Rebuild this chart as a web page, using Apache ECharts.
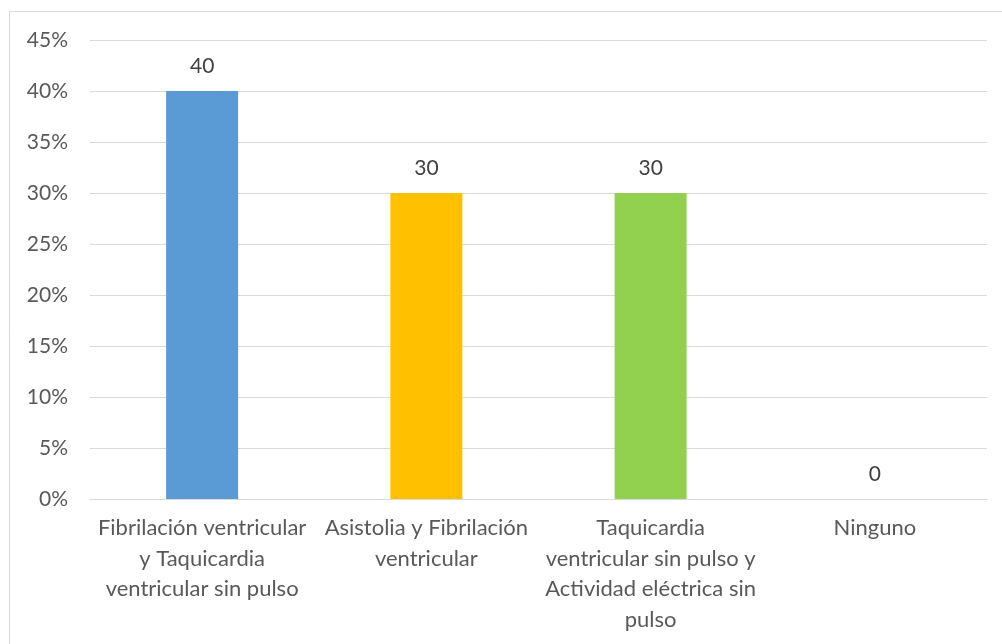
<!DOCTYPE html>
<html>
<head>
<meta charset="utf-8">
<script src="https://cdn.jsdelivr.net/npm/echarts@6/dist/echarts.min.js"></script>
<style>
html,body{margin:0;padding:0;background:#fff;}
#chart{width:1002px;height:644px;}
</style>
</head>
<body>
<div id="chart"></div>
<script>
const categories = [
  'Fibrilación ventricular\ny Taquicardia\nventricular sin pulso',
  'Asistolia y Fibrilación\nventricular',
  'Taquicardia\nventricular sin pulso y\nActividad eléctrica sin\npulso',
  'Ninguno'
];
const values = [40, 30, 30, 0];
const barColors = ['#5B9BD5', '#FFC000', '#92D050', '#A5A5A5'];
const yTicks = { min: 0, max: 45, interval: 5 };

const chart = echarts.init(document.getElementById('chart'), null, { renderer: 'canvas' });
const fontFamily = 'Lato, "Open Sans", sans-serif';
chart.setOption({
  animation: false,
  backgroundColor: '#fff',
  graphic: [{
    type: 'rect',
    shape: { x: 9.5, y: 11.5, width: 1100, height: 700 },
    style: { fill: 'none', stroke: '#D9D9D9', lineWidth: 1 },
    silent: true, z: -1
  }],
  grid: { left: 90, right: 15, top: 40, bottom: 145, containLabel: false },
  xAxis: {
    type: 'category',
    data: categories,
    axisLine: { show: true, lineStyle: { color: '#D9D9D9', width: 1 } },
    axisTick: { show: false },
    axisLabel: {
      interval: 0,
      color: '#595959',
      fontSize: 22,
      fontFamily: fontFamily,
      lineHeight: 30.5,
      margin: 14,
      align: 'center'
    }
  },
  yAxis: {
    type: 'value',
    min: yTicks.min, max: yTicks.max, interval: yTicks.interval,
    axisLine: { show: false },
    axisTick: { show: false },
    splitLine: { show: true, lineStyle: { color: '#D9D9D9', width: 1 } },
    axisLabel: {
      formatter: '{value}%',
      color: '#595959',
      fontSize: 21,
      fontFamily: fontFamily,
      margin: 22
    }
  },
  series: [{
    type: 'bar',
    barWidth: 72,
    data: values.map((v, i) => ({ value: v, itemStyle: { color: barColors[i] } })),
    label: {
      show: true,
      position: 'top',
      distance: 14,
      color: '#404040',
      fontSize: 21,
      fontFamily: fontFamily
    }
  }]
});
</script>
</body>
</html>
